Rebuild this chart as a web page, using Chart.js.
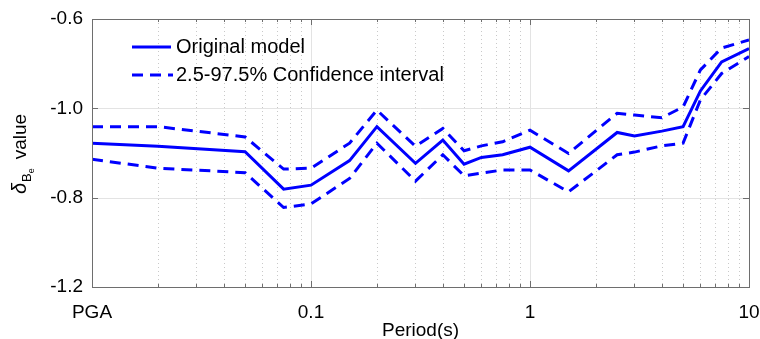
<!DOCTYPE html>
<html>
<head>
<meta charset="utf-8">
<script src="https://cdn.jsdelivr.net/npm/chart.js@4/dist/chart.umd.min.js"></script>
<style>
  html, body { margin: 0; padding: 0; background: #ffffff; }
  #wrap { width: 760px; height: 339px; position: relative; }
</style>
</head>
<body>
<div id="wrap"><canvas id="c" width="760" height="339"></canvas></div>
<script>
// ---- data ----
const periods = [0.01, 0.02, 0.05, 0.075, 0.1, 0.15, 0.2, 0.3, 0.4, 0.5, 0.6, 0.75, 1, 1.5, 2.5, 3, 4, 5, 6, 7.5, 10];
const originalModel = [-0.878, -0.885, -0.897, -0.981, -0.972, -0.917, -0.841, -0.923, -0.871, -0.925, -0.910, -0.904, -0.887, -0.940, -0.854, -0.862, -0.851, -0.841, -0.761, -0.696, -0.666];
const upperCI = [-0.841, -0.841, -0.864, -0.936, -0.934, -0.878, -0.804, -0.885, -0.845, -0.895, -0.884, -0.875, -0.849, -0.901, -0.811, -0.815, -0.821, -0.797, -0.714, -0.665, -0.647];
const lowerCI = [-0.914, -0.934, -0.944, -1.022, -1.014, -0.957, -0.878, -0.963, -0.904, -0.951, -0.945, -0.938, -0.938, -0.987, -0.904, -0.898, -0.884, -0.878, -0.781, -0.722, -0.684];
const xTickValues = [0.01, 0.1, 1, 10];
const xTickLabels = ['PGA', '0.1', '1', '10'];
const yTickLabels = ['-1.2', '-0.8', '-1.0', '-0.6'];
const legendLabels = ['Original model', '2.5-97.5% Confidence interval'];
const xTitle = 'Period(s)';

const FONT = '"Liberation Sans", Arial, sans-serif';
const BLUE = '#0000ff';
const DASH = [11, 7];

function pts(arr) { return periods.map((p, i) => ({ x: p, y: arr[i] })); }

const decorPlugin = {
  id: 'decor',
  beforeDatasetsDraw(chart) {
    const { ctx, chartArea: a, scales } = chart;
    const xs = scales.x, ys = scales.y;
    ctx.save();
    // minor vertical dotted grid
    ctx.strokeStyle = '#c9c9c9';
    ctx.lineWidth = 1;
    ctx.setLineDash([1, 3]);
    for (let d = -2; d < 1; d++) {
      for (let m = 2; m <= 9; m++) {
        const px = Math.round(xs.getPixelForValue(m * Math.pow(10, d))) + 0.5;
        ctx.beginPath(); ctx.moveTo(px, a.top); ctx.lineTo(px, a.bottom); ctx.stroke();
      }
    }
    // major grid
    ctx.setLineDash([]);
    ctx.strokeStyle = '#e3e3e3';
    xTickValues.forEach(v => {
      const px = Math.round(xs.getPixelForValue(v)) + 0.5;
      ctx.beginPath(); ctx.moveTo(px, a.top); ctx.lineTo(px, a.bottom); ctx.stroke();
    });
    ys.ticks.forEach(t => {
      const py = Math.round(ys.getPixelForValue(t.value)) + 0.5;
      ctx.beginPath(); ctx.moveTo(a.left, py); ctx.lineTo(a.right, py); ctx.stroke();
    });
    ctx.restore();
  },
  afterDatasetsDraw(chart) {
    const { ctx, chartArea: a, scales } = chart;
    const xs = scales.x, ys = scales.y;
    ctx.save();
    // box
    ctx.strokeStyle = '#6e6e6e';
    ctx.lineWidth = 1;
    ctx.setLineDash([]);
    ctx.strokeRect(Math.round(a.left) + 0.5, Math.round(a.top) + 0.5, Math.round(a.right - a.left), Math.round(a.bottom - a.top));
    // ticks (inward)
    const tick = (x1, y1, x2, y2) => { ctx.beginPath(); ctx.moveTo(x1, y1); ctx.lineTo(x2, y2); ctx.stroke(); };
    for (let d = -2; d < 1; d++) {
      for (let m = 1; m <= 9; m++) {
        const v = m * Math.pow(10, d);
        const px = Math.round(xs.getPixelForValue(v)) + 0.5;
        const len = m === 1 ? 6 : 3;
        tick(px, a.bottom, px, a.bottom - len);
        tick(px, a.top, px, a.top + len);
      }
    }
    ys.ticks.forEach(t => {
      const py = Math.round(ys.getPixelForValue(t.value)) + 0.5;
      tick(a.left, py, a.left + 6, py);
      tick(a.right, py, a.right - 6, py);
    });
    // legend
    const lx1 = 132, lx2 = 171, tx = 176;
    const ly = [47, 75];
    ctx.strokeStyle = BLUE;
    ctx.lineWidth = 3;
    ctx.setLineDash([]);
    tick(lx1, ly[0], lx2, ly[0]);
    ctx.setLineDash(DASH);
    tick(lx1, ly[1], lx2 + 2, ly[1]);
    ctx.setLineDash([]);
    ctx.fillStyle = '#000';
    ctx.font = '20px ' + FONT;
    ctx.textBaseline = 'middle';
    ctx.textAlign = 'left';
    ctx.fillText(legendLabels[0], tx, ly[0]);
    ctx.fillText(legendLabels[1], tx, ly[1]);
    // x title
    ctx.textAlign = 'center';
    ctx.textBaseline = 'alphabetic';
    ctx.font = '19px ' + FONT;
    ctx.fillText(xTitle, (a.left + a.right) / 2, 336);
    // y title: delta with subscript B_e, then "value"
    const fMain = '19px ' + FONT, fDelta = 'italic 20px ' + FONT, fSub = '13px ' + FONT, fSub2 = '9px ' + FONT;
    ctx.font = fDelta; const wD = ctx.measureText('δ').width;
    ctx.font = fSub; const wB = ctx.measureText('B').width;
    ctx.font = fSub2; const wE = ctx.measureText('e').width;
    ctx.font = fMain; const wV = ctx.measureText('value').width;
    const gap = 10;
    const total = wD + wB + wE + gap + wV;
    ctx.translate(26, 154 + total / 2);
    ctx.rotate(-Math.PI / 2);
    ctx.textAlign = 'left';
    let x = 0;
    ctx.font = fDelta; ctx.fillText('δ', x, 0); x += wD + 1;
    ctx.font = fSub; ctx.fillText('B', x, 5); x += wB;
    ctx.font = fSub2; ctx.fillText('e', x, 8); x += wE + gap - 1;
    ctx.font = fMain; ctx.fillText('value', x, 0);
    ctx.restore();
  }
};

new Chart(document.getElementById('c'), {
  type: 'line',
  data: {
    datasets: [
      { label: legendLabels[0], data: pts(originalModel), borderColor: BLUE, borderWidth: 3, pointRadius: 0, tension: 0, fill: false },
      { label: legendLabels[1], data: pts(upperCI), borderColor: BLUE, borderWidth: 3, borderDash: DASH, pointRadius: 0, tension: 0, fill: false },
      { label: legendLabels[1] + ' (lower)', data: pts(lowerCI), borderColor: BLUE, borderWidth: 3, borderDash: DASH, pointRadius: 0, tension: 0, fill: false }
    ]
  },
  options: {
    responsive: false,
    animation: false,
    events: [],
    layout: { padding: { left: 0, right: 11, top: 19, bottom: 0 } },
    plugins: { legend: { display: false }, tooltip: { enabled: false } },
    scales: {
      x: {
        type: 'logarithmic',
        min: 0.01, max: 10,
        afterBuildTicks: s => { s.ticks = xTickValues.map(v => ({ value: v })); },
        afterFit: s => { s.height = 52; s.paddingLeft = 0; s.paddingRight = 0; },
        grid: { display: false, drawTicks: false },
        border: { display: false },
        ticks: {
          autoSkip: false, maxRotation: 0, padding: 14, color: '#000',
          font: { family: FONT, size: 19 },
          callback: (v) => { const i = xTickValues.indexOf(v); return i >= 0 ? xTickLabels[i] : ''; }
        }
      },
      y: {
        type: 'linear',
        min: -1.2, max: -0.6,
        afterBuildTicks: s => { s.ticks = [-1.2, -1.0, -0.8, -0.6].map(v => ({ value: v })); },
        afterFit: s => { s.width = 92; s.paddingTop = 0; s.paddingBottom = 0; },
        grid: { display: false, drawTicks: false },
        border: { display: false },
        ticks: {
          padding: 9, color: '#000',
          font: { family: FONT, size: 19 },
          callback: (v, i) => yTickLabels[i]
        }
      }
    }
  },
  plugins: [decorPlugin]
});
</script>
</body>
</html>
